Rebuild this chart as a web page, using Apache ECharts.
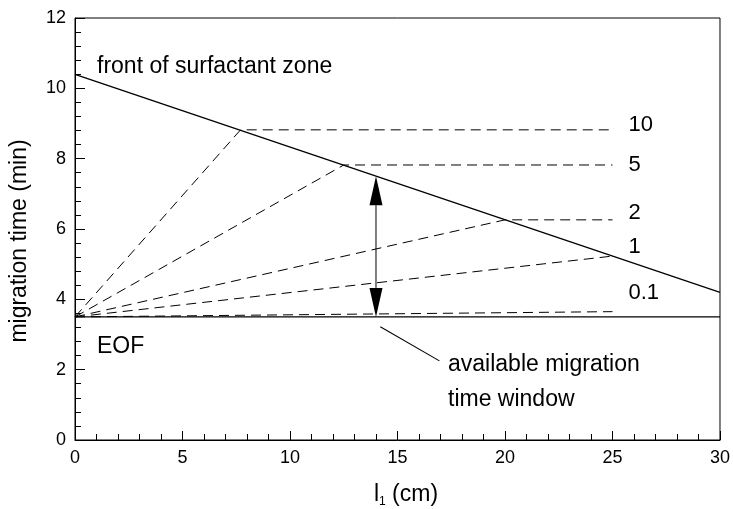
<!DOCTYPE html>
<html>
<head>
<meta charset="utf-8">
<script src="https://cdn.jsdelivr.net/npm/echarts@6/dist/echarts.min.js"></script>
<style>
  html, body { margin: 0; padding: 0; background: #fff; }
  #chart { width: 733px; height: 509px; }
</style>
</head>
<body>
<div id="chart"></div>
<script>
// Surfactant concentration of each dashed path and where it meets the front
const levels = ['10', '5', '2', '1', '0.1'];
const meetX = [7.7, 12.5, 20.0, 25.0, 25.0];
const meetY = [8.82, 7.82, 6.26, 5.23, 3.65];
const plateauEndX = 25;

// Electroosmotic flow marker time (min)
const eofTime = 3.5;

// Front of the surfactant zone: straight line between two points
const frontX = [0, 30];
const frontY = [10.4, 4.2];

// Available migration time window, drawn as a double arrow at l1 = 14 cm
const windowX = 14;
const windowTop = 7.5;

// Leader line for the window note
const leaderX = [14.2, 16.95];
const leaderY = [3.22, 2.25];

// Axis ranges
const xRange = [0, 30, 5];
const yRange = [0, 12, 2];

const FONT = '"Liberation Sans", Arial, Helvetica, sans-serif';
const INK = '#000';

// vertical pixel nudges of the level labels relative to their path ends
const labelNudge = [-5, 0, -7, -9, -19];
// arrowhead size in pixels
const HEAD_W = 13, HEAD_L = 29;

const chart = echarts.init(document.getElementById('chart'), null, { renderer: 'canvas' });

const levelSeries = levels.map((lv, i) => ({
  type: 'line',
  name: lv,
  silent: true,
  symbol: 'none',
  lineStyle: { color: INK, width: 1, type: [10, 6] },
  endLabel: {
    show: true,
    formatter: lv,
    distance: 16,
    offset: [0, labelNudge[i]],
    color: INK,
    fontFamily: FONT,
    fontSize: 22
  },
  data: [
    [0, eofTime],
    [meetX[i], meetY[i]],
    [plateauEndX, meetY[i]]
  ]
}));

// double-headed arrow spanning the window, tips exactly at both ends
function renderWindowArrow(params, api) {
  const x = api.value(0);
  const top = api.coord([x, api.value(2)]);
  const bot = api.coord([x, api.value(1)]);
  const h = HEAD_W / 2;
  return {
    type: 'group',
    children: [
      {
        type: 'line',
        shape: { x1: top[0], y1: top[1] + HEAD_L, x2: bot[0], y2: bot[1] - HEAD_L },
        style: { stroke: INK, lineWidth: 1 }
      },
      {
        type: 'polygon',
        shape: { points: [[top[0], top[1]], [top[0] - h, top[1] + HEAD_L], [top[0] + h, top[1] + HEAD_L]] },
        style: { fill: INK }
      },
      {
        type: 'polygon',
        shape: { points: [[bot[0], bot[1]], [bot[0] - h, bot[1] - HEAD_L], [bot[0] + h, bot[1] - HEAD_L]] },
        style: { fill: INK }
      }
    ]
  };
}

const option = {
  backgroundColor: '#fff',
  animation: false,
  grid: {
    left: 75, right: 10, top: 18, bottom: 69,
    show: true, borderColor: INK, borderWidth: 1, backgroundColor: 'transparent'
  },
  xAxis: {
    type: 'value',
    min: xRange[0], max: xRange[1], interval: xRange[2],
    axisLine: { show: true, onZero: false, lineStyle: { color: INK, width: 1 } },
    axisTick: { show: true, inside: true, length: 9, lineStyle: { color: INK } },
    minorTick: { show: true, splitNumber: 5, length: 6, lineStyle: { color: INK } },
    splitLine: { show: false },
    axisLabel: { color: INK, fontFamily: FONT, fontSize: 18, margin: 9, hideOverlap: false }
  },
  yAxis: {
    type: 'value',
    min: yRange[0], max: yRange[1], interval: yRange[2],
    axisLine: { show: true, onZero: false, lineStyle: { color: INK, width: 1 } },
    axisTick: { show: true, inside: true, length: 10, lineStyle: { color: INK } },
    minorTick: { show: true, splitNumber: 5, length: 6, lineStyle: { color: INK } },
    splitLine: { show: false },
    axisLabel: { color: INK, fontFamily: FONT, fontSize: 18, margin: 9, hideOverlap: false }
  },
  series: [
    {
      type: 'line',
      name: 'front',
      silent: true,
      symbol: 'none',
      lineStyle: { color: INK, width: 1.3 },
      data: frontX.map((x, i) => [x, frontY[i]])
    },
    {
      type: 'line',
      name: 'EOF',
      silent: true,
      symbol: 'none',
      lineStyle: { color: INK, width: 1.3 },
      data: [[xRange[0], eofTime], [xRange[1], eofTime]]
    },
    ...levelSeries,
    {
      type: 'line',
      name: 'leader',
      silent: true,
      symbol: 'none',
      lineStyle: { color: INK, width: 1.1 },
      data: leaderX.map((x, i) => [x, leaderY[i]])
    },
    {
      type: 'custom',
      name: 'window',
      silent: true,
      renderItem: renderWindowArrow,
      encode: { x: 0, y: [1, 2] },
      data: [[windowX, eofTime, windowTop]]
    }
  ],
  graphic: [
    {
      type: 'text', x: 97, y: 67,
      style: { text: 'front of surfactant zone', font: '23px ' + FONT, fill: INK, verticalAlign: 'middle' }
    },
    {
      type: 'text', x: 97, y: 347,
      style: { text: 'EOF', font: '23px ' + FONT, fill: INK, verticalAlign: 'middle' }
    },
    {
      type: 'text', x: 448, y: 365,
      style: { text: 'available migration', font: '23px ' + FONT, fill: INK, verticalAlign: 'middle' }
    },
    {
      type: 'text', x: 448, y: 400,
      style: { text: 'time window', font: '23px ' + FONT, fill: INK, verticalAlign: 'middle' }
    },
    {
      type: 'text', x: 20, y: 241, rotation: Math.PI / 2,
      style: { text: 'migration time (min)', font: '23px ' + FONT, fill: INK, align: 'center', verticalAlign: 'middle' }
    },
    {
      type: 'text', x: 406, y: 495,
      style: {
        text: '{a|l}{s|1}{a| (cm)}',
        align: 'center', verticalAlign: 'middle', fill: INK,
        rich: {
          a: { fontFamily: FONT, fontSize: 23, fill: INK, lineHeight: 26 },
          s: { fontFamily: FONT, fontSize: 12, fill: INK, lineHeight: 26, padding: [14, 0, 0, 0] }
        }
      }
    }
  ]
};

chart.setOption(option);
</script>
</body>
</html>
